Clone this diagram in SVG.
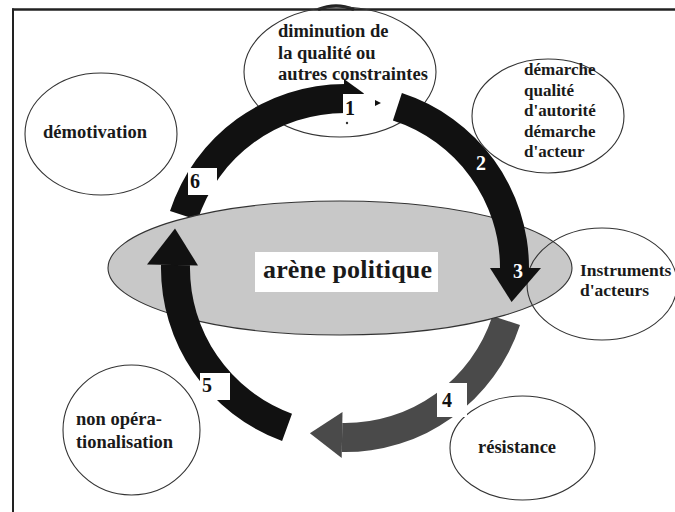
<svg xmlns="http://www.w3.org/2000/svg" width="675" height="512" viewBox="0 0 675 512">
<style>
.frame{stroke:#222;fill:none}
.oval{fill:none;stroke:#333;stroke-width:1.1}
.blk{fill:#111}
.gry{fill:#4a4a4a}
.box{fill:#fff}
.t{font-family:"Liberation Serif","Times New Roman",serif;font-weight:bold;font-size:18.5px;fill:#1a1a1a}
.n{font-family:"Liberation Serif","Times New Roman",serif;font-weight:bold;font-size:20px;text-anchor:middle}
</style>
<rect width="675" height="512" fill="#fff"/>
<g id="frame">
<line class="frame" x1="12" y1="9.5" x2="675" y2="9.5" stroke-width="2.5"/>
<line class="frame" x1="13" y1="8.5" x2="13" y2="512" stroke-width="2"/>
<path d="M318 9.5 Q336 2 354 9.5" fill="none" stroke="#222" stroke-width="3"/>
</g>
<g id="n-diminution"><ellipse class="oval" cx="340" cy="72" rx="96" ry="65"/></g>
<g id="n-demarche"><ellipse class="oval" cx="548" cy="116" rx="76" ry="57"/></g>
<g id="n-demotivation"><ellipse class="oval" cx="101" cy="134" rx="76" ry="61"/></g>
<g id="n-nonop"><ellipse class="oval" cx="131.5" cy="430" rx="68.5" ry="65"/></g>
<g id="n-resistance"><ellipse class="oval" cx="522.5" cy="448" rx="72.5" ry="52"/></g>
<g id="connectors-back">
<path class="blk" d="M170 211.1 A184 184 0 0 1 345 84 L345 113 A155 155 0 0 0 197.6 220.1 Z"/>
<polygon class="blk" points="344,79 364,93.5 344,112"/>
<path class="gry" d="M520 324.9 A184 184 0 0 1 341.8 452 L342.3 423 A155 155 0 0 0 492.4 315.9 Z"/>
<polygon class="gry" points="342.5,412 341.7,458 309.9,433.3"/>
</g>
<g id="n-arene">
<ellipse cx="340" cy="268" rx="232" ry="67" fill="#c8c8c8" stroke="#333" stroke-width="1.1"/>
</g>
<g id="n-instruments"><ellipse class="oval" cx="602" cy="284" rx="75" ry="56"/></g>
<g id="connectors-front">
<path class="blk" d="M401.9 93 A184 184 0 0 1 529 268 L500 268 A155 155 0 0 0 392.9 120.6 Z"/>
<polygon class="blk" points="490,268 541,268 511.6,301.9"/>
<path class="blk" d="M282.1 440.9 A184 184 0 0 1 161 264.8 L190 265.3 A155 155 0 0 0 292 413.7 Z"/>
<polygon class="blk" points="198,265.4 147,264.5 175,228.5"/>
<rect class="box" x="343" y="94" width="28" height="24"/>
<rect class="box" x="437" y="383" width="30" height="34"/>
<rect class="box" x="200" y="373" width="30" height="27"/>
<rect class="box" x="188" y="168" width="29" height="27"/>
<polygon points="375,100 381,103 375,106" fill="#111"/>
<circle cx="347" cy="123" r="1.2" fill="#333"/>
<text class="n" x="350" y="115" fill="#111">1</text>
<text class="n" x="481" y="170" fill="#fff">2</text>
<text class="n" x="518" y="278" fill="#fff">3</text>
<text class="n" x="447" y="407" fill="#111">4</text>
<text class="n" x="207" y="392" fill="#111">5</text>
<text class="n" x="195" y="188" fill="#111">6</text>
</g>
<g id="labels">
<rect x="255" y="252" width="183" height="40" fill="#fff"/>
<text class="t" x="263" y="278" style="font-size:26px" textLength="169">arène politique</text>
<text class="t" x="278" y="37">diminution de</text>
<text class="t" x="278" y="58.5">la qualité ou</text>
<text class="t" x="278" y="80" textLength="150">autres constraintes</text>
<text class="t" x="524" y="75" style="font-size:17px">démarche</text>
<text class="t" x="524" y="95.5" style="font-size:17px">qualité</text>
<text class="t" x="524" y="116" style="font-size:17px">d'autorité</text>
<text class="t" x="524" y="136.5" style="font-size:17px">démarche</text>
<text class="t" x="524" y="157" style="font-size:17px">d'acteur</text>
<text class="t" x="43" y="138" textLength="104">démotivation</text>
<text class="t" x="76" y="425">non opéra-</text>
<text class="t" x="76" y="448" textLength="97">tionalisation</text>
<text class="t" x="478" y="453">résistance</text>
<text class="t" x="580" y="276" style="font-size:17.5px">Instruments</text>
<text class="t" x="580" y="296" style="font-size:17.5px">d'acteurs</text>
</g>
</svg>
